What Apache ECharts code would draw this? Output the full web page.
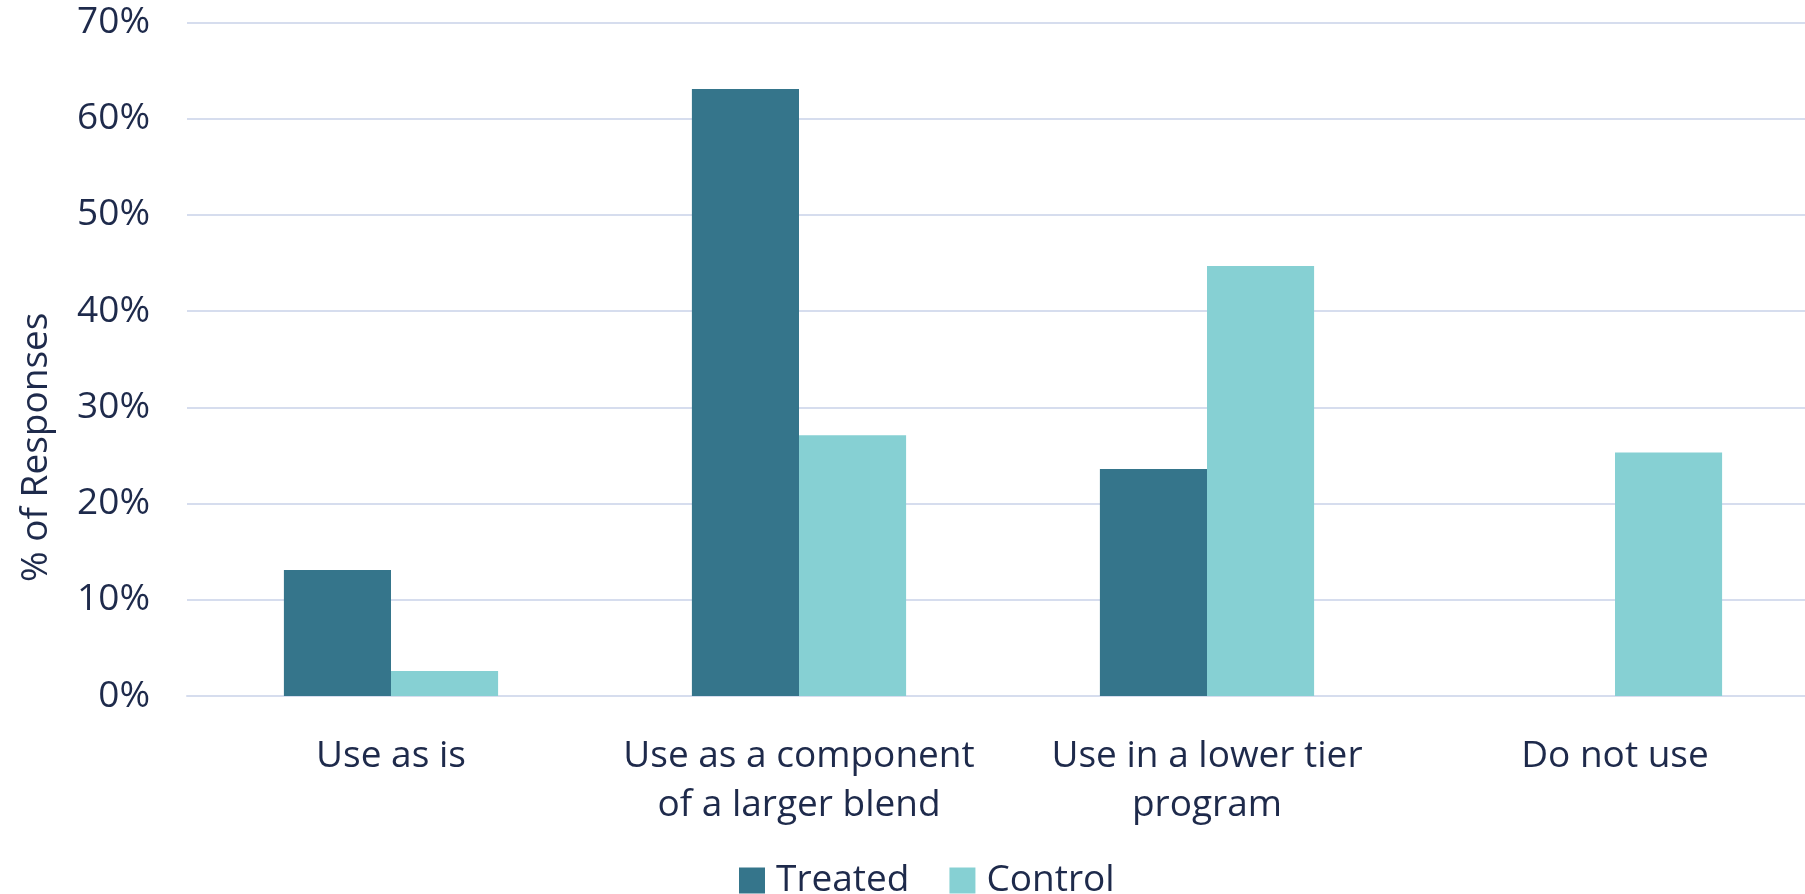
<!DOCTYPE html>
<html>
<head>
<meta charset="utf-8">
<script src="https://cdn.jsdelivr.net/npm/echarts@6/dist/echarts.min.js"></script>
<style>
  html, body { margin: 0; padding: 0; background: #fff; }
  #chart { width: 1805px; height: 894px; }
</style>
</head>
<body>
<div id="chart"></div>
<script>
// categories and values (% of responses)
const categories = ['Use as is', 'Use as a component\nof a larger blend', 'Use in a lower tier\nprogram', 'Do not use'];
const treated = [13.1, 63.1, 23.6, 0];
const control = [2.6, 27.1, 44.7, 25.3];

const textColor = '#1e2a4b';
const gridColor = '#d6ddee';
const fontFamily = '"Open Sans", Lato, sans-serif';

const chart = echarts.init(document.getElementById('chart'));

chart.setOption({
  animation: false,
  textStyle: { fontFamily: fontFamily },
  grid: {
    left: 187,
    right: -14,
    top: 22.5,
    bottom: 198,
    outerBoundsMode: 'none'
  },
  legend: {
    bottom: -10,
    left: 734,
    icon: 'rect',
    itemWidth: 26,
    itemHeight: 26,
    itemGap: 40,
    textStyle: { color: textColor, fontSize: 37, fontFamily: fontFamily, padding: [0, 0, 0, 6] }
  },
  xAxis: {
    type: 'category',
    data: categories,
    axisLine: { show: true, lineStyle: { color: gridColor, width: 2 } },
    axisTick: { show: false },
    axisLabel: {
      color: textColor,
      fontSize: 37,
      lineHeight: 49,
      margin: 36,
      interval: 0
    }
  },
  yAxis: {
    type: 'value',
    min: 0,
    max: 70,
    interval: 10,
    name: '% of Responses',
    nameLocation: 'middle',
    nameGap: 132,
    nameRotate: 90,
    nameTextStyle: { color: textColor, fontSize: 37, padding: [0, 176, 0, 0] },
    axisLine: { show: false },
    axisTick: { show: false },
    axisLabel: {
      color: textColor,
      fontSize: 37,
      margin: 37,
      formatter: '{value}%'
    },
    splitLine: { lineStyle: { color: gridColor, width: 2 } }
  },
  series: [
    {
      name: 'Treated',
      type: 'bar',
      data: treated,
      barGap: 0,
      barCategoryGap: '47.5%',
      itemStyle: { color: '#35758b' }
    },
    {
      name: 'Control',
      type: 'bar',
      data: control,
      itemStyle: { color: '#86d0d3' }
    }
  ]
});
</script>
</body>
</html>
